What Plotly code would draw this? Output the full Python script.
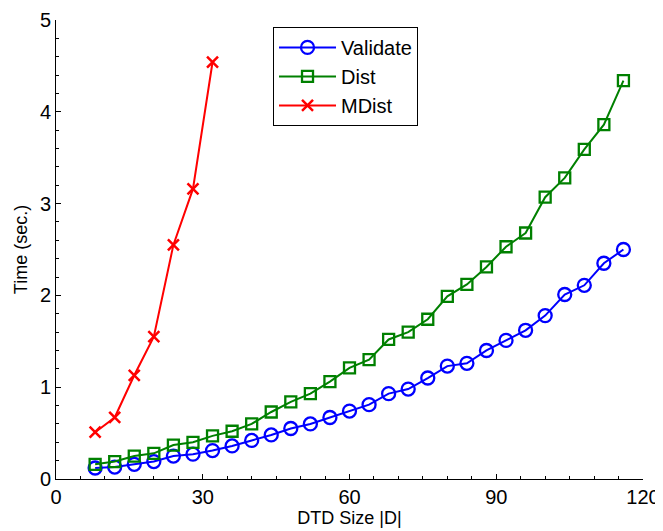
import plotly.graph_objects as go

x_sizes = [8, 12, 16, 20, 24, 28, 32, 36, 40, 44, 48, 52, 56, 60, 64, 68, 72, 76,
           80, 84, 88, 92, 96, 100, 104, 108, 112, 116]
validate = [0.12, 0.13, 0.16, 0.19, 0.25, 0.27, 0.31, 0.36, 0.42, 0.48, 0.55, 0.60,
            0.67, 0.74, 0.81, 0.93, 0.98, 1.10, 1.23, 1.26, 1.40, 1.51, 1.62, 1.78,
            2.01, 2.11, 2.35, 2.50]
dist = [0.16, 0.19, 0.25, 0.28, 0.37, 0.40, 0.47, 0.52, 0.60, 0.73, 0.84, 0.93,
        1.06, 1.21, 1.30, 1.52, 1.60, 1.74, 1.99, 2.12, 2.31, 2.53, 2.68, 3.07,
        3.28, 3.59, 3.86, 4.34]
x_mdist = [8, 12, 16, 20, 24, 28, 32]
mdist = [0.51, 0.67, 1.13, 1.55, 2.55, 3.16, 4.54]

x_ticks = [0, 30, 60, 90, 120]
y_ticks = [0, 1, 2, 3, 4, 5]

FONT = "Liberation Sans, Arial, sans-serif"

fig = go.Figure()
fig.add_trace(go.Scatter(
    x=x_sizes, y=validate, name="Validate", mode="lines+markers",
    line=dict(color="#0000FF", width=2),
    marker=dict(symbol="circle-open", size=13, color="#0000FF",
                line=dict(width=2.3, color="#0000FF"))))
fig.add_trace(go.Scatter(
    x=x_sizes, y=dist, name="Dist", mode="lines+markers",
    line=dict(color="#008000", width=2),
    marker=dict(symbol="square-open", size=11, color="#008000",
                line=dict(width=2.3, color="#008000"))))
fig.add_trace(go.Scatter(
    x=x_mdist, y=mdist, name="MDist", mode="lines+markers",
    line=dict(color="#FF0000", width=2),
    marker=dict(symbol="x-thin-open", size=11, color="#FF0000",
                line=dict(width=2.5, color="#FF0000"))))

axis_common = dict(
    showline=True, linecolor="black", linewidth=1, mirror=False,
    showgrid=False, zeroline=False, automargin=False,
    ticks="inside", ticklen=5, tickwidth=1, tickcolor="black",
    tickfont=dict(family=FONT, size=20, color="black"),
    ticklabeloverflow="allow",
)

fig.update_xaxes(
    range=[0, 120], tickvals=x_ticks, ticktext=[str(v) for v in x_ticks],
    minor=dict(ticks="inside", dtick=5, ticklen=3, tickcolor="black", showgrid=False),
    title=dict(text="DTD Size |D|", font=dict(family=FONT, size=18, color="black"),
               standoff=3),
    **axis_common)
fig.update_yaxes(
    range=[0, 5], tickvals=y_ticks, ticktext=[str(v) for v in y_ticks],
    minor=dict(ticks="inside", dtick=0.2, ticklen=3, tickcolor="black", showgrid=False),
    title=dict(text="Time (sec.)", font=dict(family=FONT, size=18, color="black"),
               standoff=7),
    **axis_common)

fig.update_layout(
    width=655, height=523,
    margin=dict(l=48, r=20, t=12, b=52),
    plot_bgcolor="white", paper_bgcolor="white",
    font=dict(family=FONT, color="black"),
    legend=dict(
        x=0.3697, y=0.985, xanchor="left", yanchor="top",
        bgcolor="white", bordercolor="black", borderwidth=1,
        font=dict(family=FONT, size=20, color="black"),
        itemwidth=57, tracegroupgap=0,
    ),
    showlegend=True,
)

fig.write_html("out.html")
